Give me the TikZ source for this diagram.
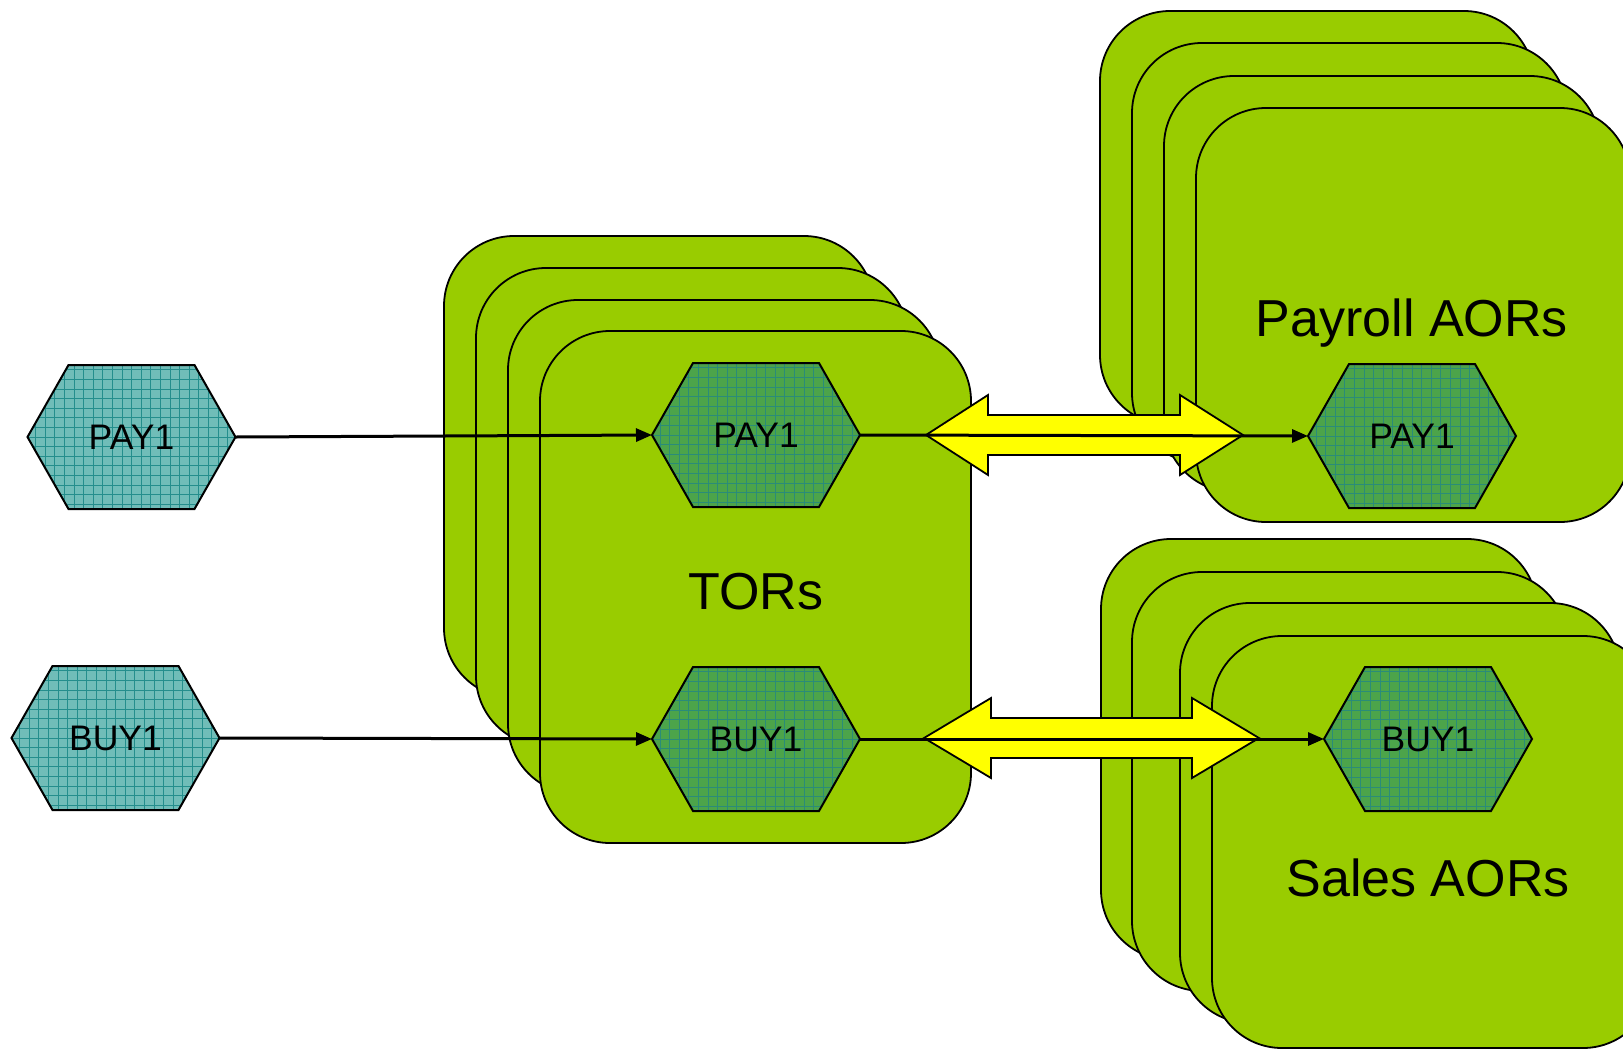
\documentclass[tikz,border=0pt]{standalone}
\usepackage{fontspec}
\setmainfont{Liberation Sans}
\usetikzlibrary{arrows.meta}
\definecolor{boxgreen}{HTML}{99CC00}
\definecolor{hexteal}{HTML}{70BDB8}
\definecolor{gridteal}{HTML}{248E8C}
\definecolor{hexgreen}{HTML}{4CA44A}
\definecolor{gridgreen}{HTML}{2A8C78}
\definecolor{arrowyellow}{HTML}{FFFF00}
\tikzset{
  greenbox/.style={draw=black, line width=1.8pt, fill=boxgreen, rounded corners=70pt,
    rectangle, inner sep=0pt, outer sep=0pt, anchor=north west},
  hexlabel/.style={rectangle, inner sep=0pt, outer sep=0pt, minimum width=208pt,
    minimum height=144pt, font=\fontsize{35.5}{38}\selectfont},
  biglabel/.style={font=\fontsize{52}{60}\selectfont, inner sep=0pt, anchor=base},
  hexborder/.style={draw=black, line width=2pt, line join=miter},
  flow/.style={draw=black, line width=3pt, -{Triangle[length=16pt,width=13pt]}},
  dblarrow/.style={draw=black, line width=1.8pt, fill=arrowyellow, line join=miter},
}
\newcommand\hexshape[6]{%
  \begin{scope}[shift={(#2,#3)}]
    \begin{scope}
      \clip (-104,0) -- (-63,-72) -- (63,-72) -- (104,0) -- (63,72) -- (-63,72) -- cycle;
      \fill[#4] (-110,-80) rectangle (110,80);
      \draw[#5, line width=0.8pt, step=9.6pt] (-110,80) grid (110,-80);
    \end{scope}
    \draw[hexborder] (-104,0) -- (-63,-72) -- (63,-72) -- (104,0) -- (63,72) -- (-63,72) -- cycle;
  \end{scope}
  \node[hexlabel] (#1) at (#2,#3) {#6};
}
\newcommand\yellowarrow[5]{% tipL, backL, backR, tipR, y
  \path[dblarrow] (#1,#5) -- (#2,#5-40) -- (#2,#5-20) -- (#3,#5-20) -- (#3,#5-40)
    -- (#4,#5) -- (#3,#5+40) -- (#3,#5+20) -- (#2,#5+20) -- (#2,#5+40) -- cycle;
}
\begin{document}
\begin{tikzpicture}[x=1pt, y=-1pt]
\useasboundingbox (0,0) rectangle (1623,1050);
\clip (0,0) rectangle (1623,1050);
% TOR boxes
\node[greenbox, minimum width=430pt, minimum height=462pt] (tor1) at (444,236) {};
\node[greenbox, minimum width=432pt, minimum height=478pt] (tor2) at (476,268) {};
\node[greenbox, minimum width=432pt, minimum height=494pt] (tor3) at (508,300) {};
\node[greenbox, minimum width=431pt, minimum height=512pt] (tor4) at (540,331) {};
% Payroll AOR boxes
\node[greenbox, minimum width=434pt, minimum height=414pt] (pay1box) at (1100,11) {};
\node[greenbox, minimum width=435pt, minimum height=420pt] (pay2box) at (1132,43) {};
\node[greenbox, minimum width=436pt, minimum height=416pt] (pay3box) at (1164,76) {};
\node[greenbox, minimum width=434pt, minimum height=414pt] (pay4box) at (1196,108) {};
% Sales AOR boxes
\node[greenbox, minimum width=436pt, minimum height=421pt] (sal1box) at (1101,539) {};
\node[greenbox, minimum width=435pt, minimum height=419pt] (sal2box) at (1132,572) {};
\node[greenbox, minimum width=440pt, minimum height=420pt] (sal3box) at (1180,603) {};
\node[greenbox, minimum width=441pt, minimum height=412pt] (sal4box) at (1212,636) {};
% labels
\node[biglabel] (torlabel) at (756,609) {TORs};
\node[biglabel] (paylabel) at (1412,336) {Payroll AORs};
\node[biglabel] (sallabel) at (1428,896) {Sales AORs};
% hexagons
\hexshape{inpay}{131.5}{437}{hexteal}{gridteal}{PAY1}
\hexshape{inbuy}{115.5}{738}{hexteal}{gridteal}{BUY1}
\hexshape{torpay}{756}{435}{hexgreen}{gridgreen}{PAY1}
\hexshape{torbuy}{756}{739}{hexgreen}{gridgreen}{BUY1}
\hexshape{aorpay}{1412}{436}{hexgreen}{gridgreen}{PAY1}
\hexshape{aorbuy}{1428}{739}{hexgreen}{gridgreen}{BUY1}
% yellow double arrows
\yellowarrow{926}{988}{1180}{1243}{435}
\yellowarrow{924}{991}{1192}{1259}{738}
% flows
\draw[flow] (inpay.east) -- (torpay.west);
\draw[flow] (inbuy.east) -- (torbuy.west);
\draw[flow] (torpay.east) -- (aorpay.west);
\draw[flow] (torbuy.east) -- (aorbuy.west);
\end{tikzpicture}
\end{document}
